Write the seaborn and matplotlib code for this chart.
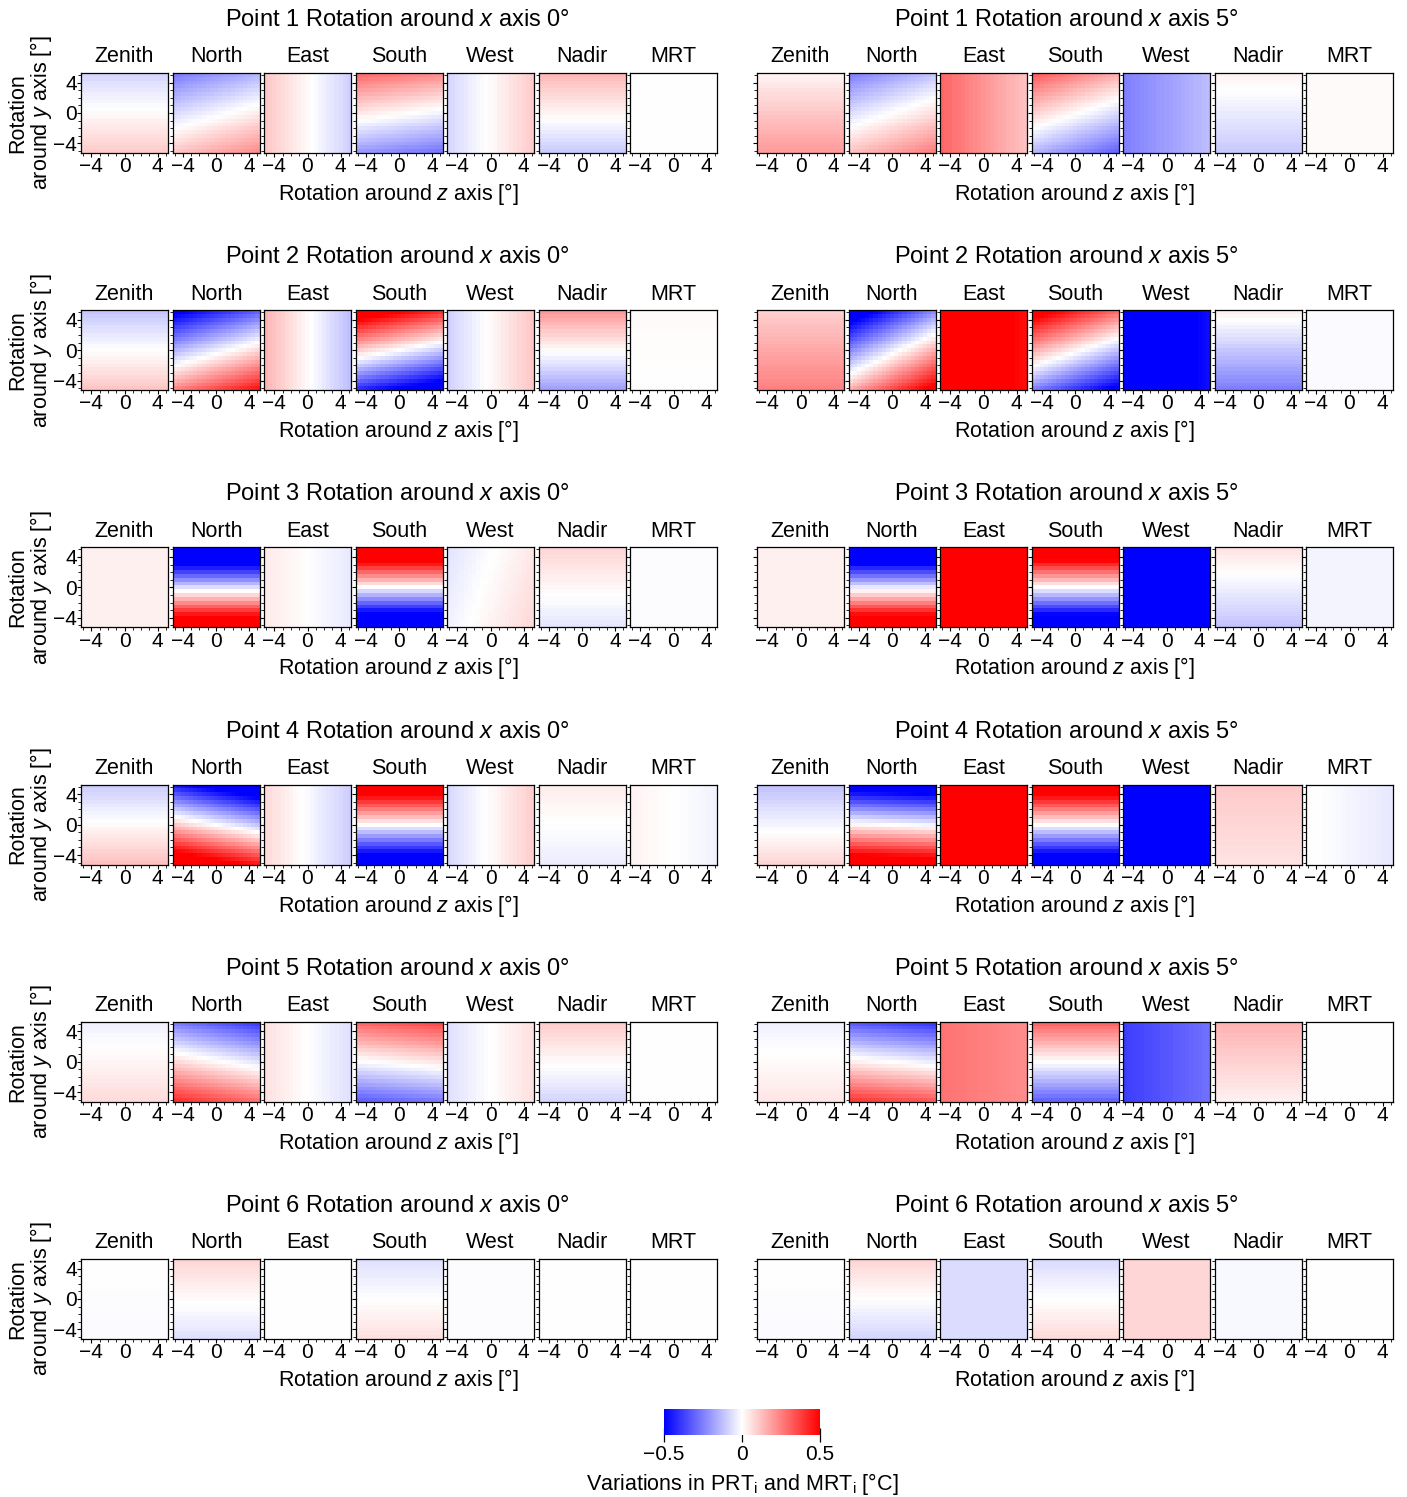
import numpy as np
import pandas as pd
import matplotlib
matplotlib.use("Agg")
import matplotlib.pyplot as plt
import seaborn as sns

# === Data ===
faces = ["Zenith", "North", "East", "South", "West", "Nadir", "MRT"]
points = [1, 2, 3, 4, 5, 6]
x_rotations = [0, 5]
rot_angles = np.arange(-5, 5.01, 0.5)   # rotation around y (rows) and z (columns) axis

# per panel: value at (0,0), change per degree around y, change per degree around z  [°C]
center_x0 = [
    [0.010, -0.018, 0.010, 0.012, 0.010, 0.020, 0.000],
    [0.000, -0.038, 0.010, 0.000, 0.010, 0.010, 0.005],
    [0.030, -0.070, 0.000, 0.000, 0.010, 0.015, -0.005],
    [0.010, 0.000, -0.010, 0.000, 0.010, 0.000, 0.000],
    [0.020, 0.013, 0.000, 0.020, 0.000, 0.010, 0.000],
    [-0.005, 0.010, 0.000, 0.000, -0.005, 0.000, 0.000],
]
slope_y_x0 = [
    [-0.018, -0.036, 0.000, 0.048, 0.000, 0.024, 0.000],
    [-0.022, -0.075, 0.000, 0.100, 0.000, 0.038, 0.001],
    [0.000, -0.150, 0.000, 0.150, -0.003, 0.013, 0.000],
    [-0.022, -0.110, 0.000, 0.130, 0.000, 0.007, 0.000],
    [-0.010, -0.065, 0.000, 0.060, 0.000, 0.018, 0.000],
    [0.001, 0.014, 0.000, -0.012, 0.000, 0.000, 0.000],
]
slope_z_x0 = [
    [0.000, 0.011, -0.020, -0.007, 0.018, 0.000, 0.000],
    [0.000, 0.022, -0.027, -0.020, 0.020, 0.000, 0.000],
    [0.000, 0.000, -0.008, 0.000, 0.010, 0.000, 0.000],
    [0.000, -0.022, -0.017, 0.000, 0.017, 0.000, -0.005],
    [0.000, -0.013, -0.012, 0.006, 0.012, 0.000, 0.000],
    [0.000, 0.000, 0.000, 0.000, 0.000, 0.000, 0.000],
]
center_x5 = [
    [0.110, 0.000, 0.210, 0.009, -0.190, -0.040, 0.010],
    [0.170, -0.038, 0.550, 0.024, -0.550, -0.110, -0.010],
    [0.030, -0.050, 0.600, 0.000, -0.600, -0.030, -0.020],
    [-0.020, 0.000, 0.600, 0.000, -0.600, 0.080, -0.020],
    [0.010, 0.000, 0.250, 0.000, -0.330, 0.090, 0.000],
    [-0.005, 0.000, -0.070, 0.000, 0.080, -0.015, 0.000],
]
slope_y_x5 = [
    [-0.017, -0.036, 0.000, 0.045, 0.000, 0.013, 0.000],
    [-0.015, -0.075, 0.000, 0.080, 0.000, 0.028, 0.000],
    [0.000, -0.150, 0.000, 0.140, 0.000, 0.017, 0.000],
    [-0.020, -0.120, 0.000, 0.130, 0.000, 0.005, 0.000],
    [-0.008, -0.070, 0.000, 0.060, 0.000, 0.012, 0.000],
    [0.001, 0.016, 0.000, -0.014, 0.000, 0.000, 0.000],
]
slope_z_x5 = [
    [0.000, 0.013, -0.018, -0.016, 0.012, 0.000, 0.000],
    [0.000, 0.038, -0.015, -0.028, 0.015, 0.000, 0.000],
    [0.000, 0.000, 0.000, 0.000, 0.000, 0.000, 0.000],
    [0.000, -0.005, 0.000, 0.000, 0.000, 0.000, -0.005],
    [0.000, -0.007, -0.005, 0.000, 0.010, 0.000, 0.000],
    [0.000, 0.000, 0.000, 0.000, 0.000, 0.000, 0.000],
]
fields = {0: (center_x0, slope_y_x0, slope_z_x0), 5: (center_x5, slope_y_x5, slope_z_x5)}

# === Style ===
sns.set_style("ticks")
plt.rcParams["font.family"] = ["Liberation Sans", "DejaVu Sans"]
plt.rcParams["mathtext.fontset"] = "custom"
plt.rcParams["mathtext.rm"] = "Liberation Sans"
plt.rcParams["mathtext.it"] = "Liberation Sans:italic"
for key in ["text.color", "axes.labelcolor", "xtick.color", "ytick.color", "axes.edgecolor"]:
    plt.rcParams[key] = "black"

W, H = 1407, 1497
fig = plt.figure(figsize=(W / 100, H / 100), dpi=100)

def fx(px):
    return px / W

def fy(py):
    return 1 - py / H

group_left = [81, 757]
title_cx = [397, 1066]
xlabel_cx = [398, 1074]
pitch, pw, ph, row_step = 91.5, 87, 80, 237.2
y_desc = rot_angles[::-1]

def tick_pos_z(d):
    return (np.asarray(d) + 5) / 0.5 + 0.5

def tick_pos_y(d):
    return (5 - np.asarray(d)) / 0.5 + 0.5

mesh = None
for r, p in enumerate(points):
    top = 73 + row_step * r
    for g, xr in enumerate(x_rotations):
        cen, sy, sz = fields[xr]
        for j, face in enumerate(faces):
            left = group_left[g] + pitch * j
            ax = fig.add_axes([fx(left), fy(top + ph), pw / W, ph / H])
            Z, Y = np.meshgrid(rot_angles, y_desc)
            vals = cen[r][j] + sy[r][j] * Y + sz[r][j] * Z
            df = pd.DataFrame(vals, index=y_desc, columns=rot_angles)
            sns.heatmap(df, ax=ax, cmap="bwr", vmin=-0.5, vmax=0.5, cbar=False,
                        xticklabels=False, yticklabels=False)
            mesh = ax.collections[0]
            for s in ax.spines.values():
                s.set_visible(True)
                s.set_linewidth(0.9)
                s.set_color("black")
            ax.set_xticks(tick_pos_z([-4, 0, 4]))
            ax.set_xticklabels(["\u22124", "0", "4"], fontsize=15)
            ax.set_xticks(tick_pos_z(np.arange(-5, 6)), minor=True)
            ax.set_yticks(tick_pos_y([4, 0, -4]))
            if g == 0 and j == 0:
                ax.set_yticklabels(["4", "0", "\u22124"], fontsize=15, rotation=0)
            else:
                ax.set_yticklabels([])
            ax.set_yticks(tick_pos_y(np.arange(-5, 6)), minor=True)
            ax.tick_params(which="major", direction="out", length=3, width=0.8, pad=0)
            ax.tick_params(which="minor", direction="out", length=2, width=0.6)
            ax.set_xlabel("")
            ax.set_ylabel("")
            fig.text(fx(left + pw / 2), fy(57 + row_step * r), face,
                     ha="center", va="center", fontsize=15.5)

        fig.text(fx(title_cx[g]), fy(20 + row_step * r),
                 f"Point {p} Rotation around $x$ axis {xr}\u00b0",
                 ha="center", va="center", fontsize=17)
        fig.text(fx(xlabel_cx[g]), fy(194 + row_step * r),
                 "Rotation around $z$ axis [\u00b0]",
                 ha="center", va="center", fontsize=15.5)
    fig.text(fx(31), fy(113 + row_step * r), "Rotation\naround $y$ axis [\u00b0]",
             ha="center", va="center", rotation=90, fontsize=15.5, linespacing=1.0)

# === Colorbar ===
cax = fig.add_axes([fx(664), fy(1435), 156 / W, 26 / H])
cb = fig.colorbar(mesh, cax=cax, orientation="horizontal", ticks=[-0.5, 0, 0.5])
cb.outline.set_visible(False)
cb.ax.set_xticklabels(["\u22120.5", "0", "0.5"], fontsize=15)
cb.ax.tick_params(direction="inout", length=10, width=0.9, pad=2, color="black")
fig.text(fx(742), fy(1484), "Variations in PRT$_\\mathrm{i}$ and MRT$_\\mathrm{i}$ [°C]",
         ha="center", va="center", fontsize=15.5)

fig.savefig("out.png", dpi=100)
plt.close(fig)
